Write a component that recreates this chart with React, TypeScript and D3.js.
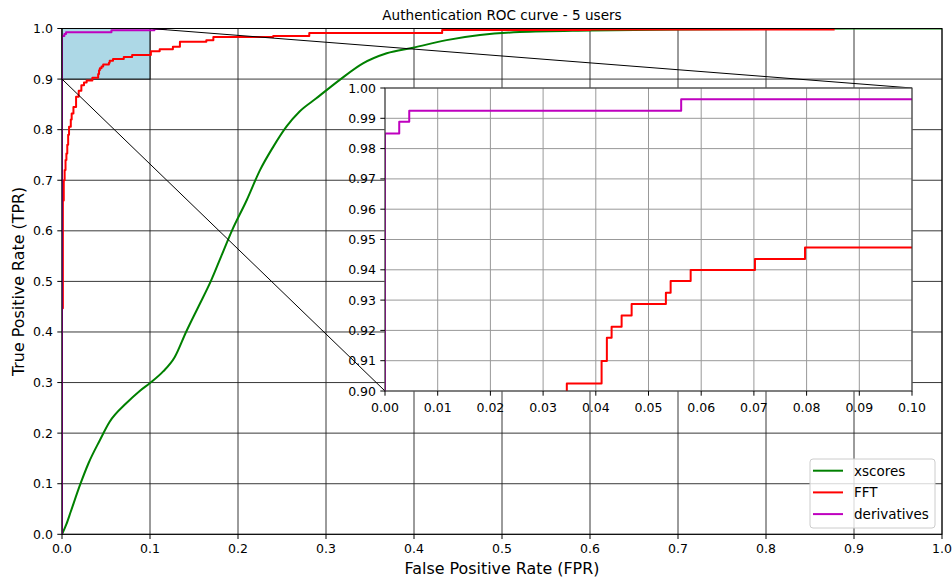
import React from 'react';
import * as d3 from 'd3';

// ---- data ----
const xscoresPoints: [number, number][] = [
  [0, 0], [0.005, 0.02], [0.01, 0.045], [0.021, 0.1], [0.03, 0.14], [0.043, 0.186],
  [0.054, 0.222], [0.073, 0.259], [0.088, 0.283], [0.1, 0.299], [0.115, 0.322],
  [0.128, 0.35], [0.141, 0.4], [0.155, 0.45], [0.169, 0.5], [0.181, 0.55],
  [0.193, 0.6], [0.21, 0.661], [0.225, 0.72], [0.24, 0.766], [0.255, 0.806],
  [0.27, 0.836], [0.289, 0.862], [0.316, 0.899], [0.342, 0.931], [0.369, 0.951],
  [0.399, 0.962], [0.437, 0.977], [0.475, 0.987], [0.52, 0.993], [0.6, 0.996],
  [0.7, 0.998], [0.8, 0.999], [0.9, 1.0], [1.0, 1.0],
];

const fftPoints: [number, number][] = [
  [0, 0], [0, 0.447], [0.001, 0.66], [0.002, 0.7], [0.003, 0.72], [0.004, 0.74],
  [0.005, 0.753], [0.006, 0.77], [0.007, 0.79], [0.008, 0.806], [0.01, 0.82],
  [0.011, 0.832], [0.013, 0.845], [0.016, 0.865], [0.019, 0.877], [0.022, 0.888],
  [0.025, 0.893], [0.028, 0.897], [0.0345, 0.9025], [0.0411, 0.9099], [0.0421, 0.9176],
  [0.043, 0.9212], [0.0449, 0.9249], [0.0468, 0.9287], [0.0533, 0.9324], [0.0542, 0.9363],
  [0.058, 0.9399], [0.0702, 0.9436], [0.0797, 0.9474], [0.101, 0.955], [0.111, 0.959],
  [0.126, 0.964], [0.134, 0.974], [0.164, 0.977], [0.172, 0.983], [0.24, 0.985],
  [0.281, 0.991], [0.432, 0.997], [0.6, 0.998], [0.878, 0.998],
];

const derivativesPoints: [number, number][] = [
  [0, 0], [0, 0.985], [0.0027, 0.9889], [0.0046, 0.9925], [0.0562, 0.9963],
  [0.105, 0.999], [0.119, 0.999],
];

const mainTicks = [0, 0.1, 0.2, 0.3, 0.4, 0.5, 0.6, 0.7, 0.8, 0.9, 1.0];
const insetXTicks = [0, 0.01, 0.02, 0.03, 0.04, 0.05, 0.06, 0.07, 0.08, 0.09, 0.1];
const insetYTicks = [0.9, 0.91, 0.92, 0.93, 0.94, 0.95, 0.96, 0.97, 0.98, 0.99, 1.0];

const seriesNames = ['xscores', 'FFT', 'derivatives'];
const seriesColors = ['#008000', '#ff0000', '#bf00bf'];

const FONT = 'DejaVu Sans, sans-serif';

export default function App() {
  const x = d3.scaleLinear().domain([0, 1]).range([62, 942]);
  const y = d3.scaleLinear().domain([0, 1]).range([534.3, 28.5]);
  const xi = d3.scaleLinear().domain([0, 0.1]).range([385, 912]);
  const yi = d3.scaleLinear().domain([0.9, 1.0]).range([391, 88]);

  const lineSmooth = (sx: any, sy: any) =>
    d3.line<[number, number]>().x(d => sx(d[0])).y(d => sy(d[1])).curve(d3.curveMonotoneX);
  const lineStep = (sx: any, sy: any) =>
    d3.line<[number, number]>().x(d => sx(d[0])).y(d => sy(d[1])).curve(d3.curveStepAfter);

  const series = [
    { pts: xscoresPoints, step: false },
    { pts: fftPoints, step: true },
    { pts: derivativesPoints, step: true },
  ];

  const [x0, x1] = x.range();
  const [y0, y1] = y.range();
  const [ix0, ix1] = xi.range();
  const [iy0, iy1] = yi.range();

  return (
    <svg width={952} height={579} style={{ position: 'absolute', left: 0, top: 0, background: '#fff' }}>
      <defs>
        <clipPath id="mainClip">
          <rect x={x0} y={y1} width={x1 - x0} height={y0 - y1} />
        </clipPath>
        <clipPath id="insetClip">
          <rect x={ix0} y={iy1} width={ix1 - ix0} height={iy0 - iy1} />
        </clipPath>
      </defs>
      <rect x={0} y={0} width={952} height={579} fill="#fff" />

      {/* main grid */}
      {mainTicks.map((t, i) => (
        <g key={'g' + i}>
          <line x1={x(t)} x2={x(t)} y1={y1} y2={y0} stroke="#222" strokeWidth={0.9} />
          <line x1={x0} x2={x1} y1={y(t)} y2={y(t)} stroke="#222" strokeWidth={0.9} />
        </g>
      ))}

      {/* zoom rectangle */}
      <rect x={x(0)} y={y(1)} width={x(0.1) - x(0)} height={y(0.9) - y(1)} fill="#add8e6" stroke="#000" strokeWidth={1} />

      {/* main curves */}
      <g clipPath="url(#mainClip)">
        {series.map((s, i) => (
          <path key={'m' + i} d={(s.step ? lineStep(x, y) : lineSmooth(x, y))(s.pts) || ''}
            fill="none" stroke={seriesColors[i]} strokeWidth={2} strokeLinejoin="round" />
        ))}
      </g>

      {/* connector lines */}
      <line x1={x(0.1)} y1={y(1)} x2={xi(0.1)} y2={yi(1)} stroke="#000" strokeWidth={1} />
      <line x1={x(0)} y1={y(0.9)} x2={xi(0)} y2={yi(0.9)} stroke="#000" strokeWidth={1} />

      {/* main spines */}
      <rect x={x0} y={y1} width={x1 - x0} height={y0 - y1} fill="none" stroke="#000" strokeWidth={1} />

      {/* main ticks */}
      {mainTicks.map((t, i) => (
        <g key={'t' + i}>
          <line x1={x(t)} x2={x(t)} y1={y0} y2={y0 + 4.7} stroke="#000" strokeWidth={1} />
          <text x={x(t)} y={553} textAnchor="middle" fontFamily={FONT} fontSize={12.5} fill="#000">{t.toFixed(1)}</text>
          <line x1={x0 - 4.7} x2={x0} y1={y(t)} y2={y(t)} stroke="#000" strokeWidth={1} />
          <text x={53} y={y(t) + 4.5} textAnchor="end" fontFamily={FONT} fontSize={12.5} fill="#000">{t.toFixed(1)}</text>
        </g>
      ))}

      {/* axis labels and title */}
      <text x={(x0 + x1) / 2} y={574} textAnchor="middle" fontFamily={FONT} fontSize={15.9} fill="#000">False Positive Rate (FPR)</text>
      <text transform={`translate(24,${(y0 + y1) / 2}) rotate(-90)`} textAnchor="middle" fontFamily={FONT} fontSize={15.9} fill="#000">True Positive Rate (TPR)</text>
      <text x={(x0 + x1) / 2} y={20} textAnchor="middle" fontFamily={FONT} fontSize={13.6} fill="#000">Authentication ROC curve - 5 users</text>

      {/* inset */}
      <rect x={ix0} y={iy1} width={ix1 - ix0} height={iy0 - iy1} fill="#fff" />
      {insetXTicks.map((t, i) => (
        <line key={'ix' + i} x1={xi(t)} x2={xi(t)} y1={iy1} y2={iy0} stroke="#999" strokeWidth={1} />
      ))}
      {insetYTicks.map((t, i) => (
        <line key={'iy' + i} x1={ix0} x2={ix1} y1={yi(t)} y2={yi(t)} stroke="#999" strokeWidth={1} />
      ))}
      <g clipPath="url(#insetClip)">
        {series.map((s, i) => (
          <path key={'i' + i} d={(s.step ? lineStep(xi, yi) : lineSmooth(xi, yi))(s.pts) || ''}
            fill="none" stroke={seriesColors[i]} strokeWidth={2} strokeLinejoin="round" />
        ))}
      </g>
      <rect x={ix0} y={iy1} width={ix1 - ix0} height={iy0 - iy1} fill="none" stroke="#333" strokeWidth={1} />
      {insetXTicks.map((t, i) => (
        <g key={'ixt' + i}>
          <line x1={xi(t)} x2={xi(t)} y1={iy0} y2={iy0 + 4.7} stroke="#000" strokeWidth={1} />
          <text x={xi(t)} y={411.5} textAnchor="middle" fontFamily={FONT} fontSize={12.5} fill="#000">{t.toFixed(2)}</text>
        </g>
      ))}
      {insetYTicks.map((t, i) => (
        <g key={'iyt' + i}>
          <line x1={ix0 - 4.7} x2={ix0} y1={yi(t)} y2={yi(t)} stroke="#000" strokeWidth={1} />
          <text x={376} y={yi(t) + 4.5} textAnchor="end" fontFamily={FONT} fontSize={12.5} fill="#000">{t.toFixed(2)}</text>
        </g>
      ))}

      {/* legend */}
      <rect x={810} y={459} width={125} height={69} rx={3} fill="#fff" fillOpacity={0.8} stroke="#ccc" strokeWidth={1} />
      {seriesNames.map((n, i) => (
        <g key={'l' + i}>
          <line x1={813} x2={843} y1={470.7 + i * 21.7} y2={470.7 + i * 21.7} stroke={seriesColors[i]} strokeWidth={2} />
          <text x={854} y={470.7 + i * 21.7 + 4.8} fontFamily={FONT} fontSize={13.5} fill="#000">{n}</text>
        </g>
      ))}
    </svg>
  );
}
